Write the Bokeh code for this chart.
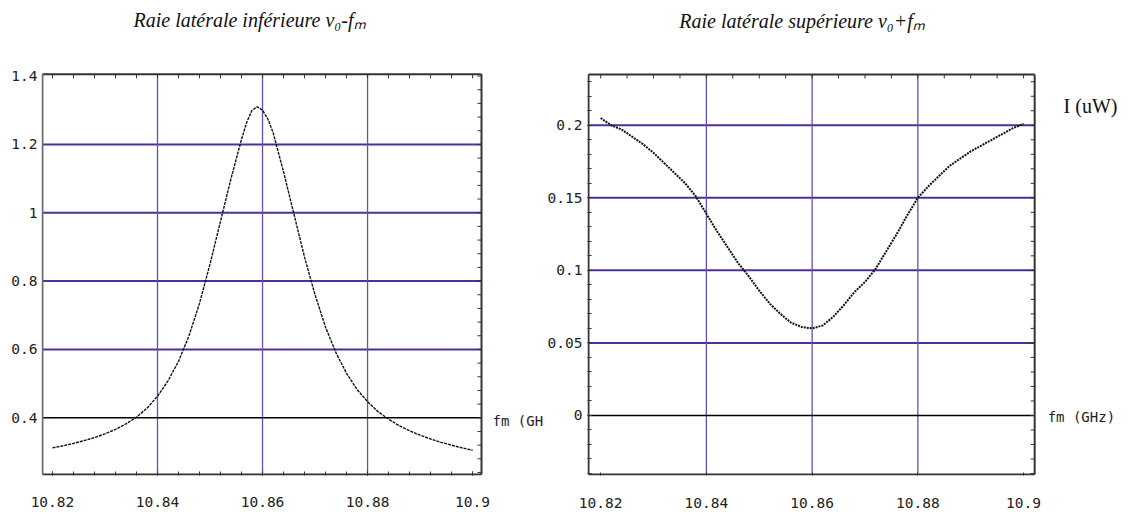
from bokeh.plotting import figure
from bokeh.models import (FixedTicker, LinearAxis, Range1d, Label,
                          CustomJSTickFormatter)
from bokeh.layouts import row
from bokeh.embed import file_html
from bokeh.resources import INLINE

# ---------------- data ----------------
freq_lower = [10.820, 10.822, 10.824, 10.826, 10.828, 10.830, 10.832, 10.834, 10.836, 10.838,
              10.840, 10.842, 10.844, 10.846, 10.848, 10.850, 10.852, 10.854, 10.856, 10.857,
              10.858, 10.859, 10.860, 10.861, 10.862, 10.864, 10.866, 10.868, 10.870, 10.872,
              10.874, 10.876, 10.878, 10.880, 10.882, 10.884, 10.886, 10.888, 10.890, 10.892,
              10.894, 10.896, 10.898, 10.900]
power_lower = [0.312, 0.318, 0.325, 0.333, 0.342, 0.353, 0.366, 0.382, 0.402, 0.428,
               0.463, 0.508, 0.565, 0.640, 0.735, 0.850, 0.975, 1.100, 1.215, 1.265,
               1.300, 1.310, 1.300, 1.275, 1.235, 1.120, 0.995, 0.870, 0.760, 0.665,
               0.590, 0.530, 0.483, 0.447, 0.418, 0.396, 0.377, 0.362, 0.349, 0.338,
               0.328, 0.320, 0.312, 0.305]

freq_upper = [10.820, 10.822, 10.824, 10.826, 10.828, 10.830, 10.832, 10.834, 10.836, 10.838,
              10.840, 10.842, 10.844, 10.846, 10.848, 10.850, 10.852, 10.854, 10.856, 10.858,
              10.860, 10.862, 10.864, 10.866, 10.868, 10.870, 10.872, 10.874, 10.876, 10.878,
              10.880, 10.882, 10.884, 10.886, 10.888, 10.890, 10.892, 10.894, 10.896, 10.898,
              10.900]
power_upper = [0.205, 0.200, 0.197, 0.192, 0.187, 0.181, 0.174, 0.167, 0.160, 0.151,
               0.139, 0.127, 0.116, 0.105, 0.096, 0.086, 0.077, 0.070, 0.064, 0.061,
               0.060, 0.062, 0.068, 0.076, 0.085, 0.092, 0.101, 0.113, 0.125, 0.138,
               0.150, 0.158, 0.165, 0.172, 0.177, 0.182, 0.186, 0.190, 0.194, 0.198,
               0.201]

x_ticks = [10.82, 10.84, 10.86, 10.88, 10.9]
x_tick_labels = ["10.82", "10.84", "10.86", "10.88", "10.9"]
y_ticks_lower = [0.4, 0.6, 0.8, 1.0, 1.2, 1.4]
y_tick_labels_lower = ["0.4", "0.6", "0.8", "1", "1.2", "1.4"]
y_ticks_upper = [0.0, 0.05, 0.1, 0.15, 0.2]
y_tick_labels_upper = ["0", "0.05", "0.1", "0.15", "0.2"]

title_lower = "Raie latérale inférieure ν₀-fₘ"
title_upper = "Raie latérale supérieure ν₀+fₘ"
xname_lower = "fm (GH"
xname_upper = "fm (GHz)"
yname = "I (uW)"

# ---------------- style ----------------
MONO = "DejaVu Sans Mono"
SERIF = "Liberation Serif"
TICK_SIZE = "14.5px"
NAME_SIZE = "14px"
TITLE_SIZE = "20px"
HGRID = "#4f2f98"
VGRID = "#6a4db0"
FRAME = "#333333"
H = 516


def fmt(tick_vals, tick_labs):
    return CustomJSTickFormatter(args=dict(tv=tick_vals, tl=tick_labs), code="""
        for (let i = 0; i < tv.length; i++) {
            if (Math.abs(tv[i] - tick) < 1e-9) { return tl[i]; }
        }
        return '';
    """)


def seq(a, b, step):
    n = int(round((b - a) / step))
    return [round(a + k * step, 6) for k in range(n + 1)]


class Panel:
    """A figure whose frame runs from the canvas top to just under the plot box and
    from just left of the box to the canvas right edge; the box is drawn inside."""

    def __init__(self, width, page_x0, box_x, box_px_x, box_y, box_px_y):
        self.bx0, self.bx1 = box_x
        self.by0, self.by1 = box_y
        px_l, px_r = box_px_x
        py_b, py_t = box_px_y
        self.px_l = px_l
        self.sx = (self.bx1 - self.bx0) / (px_r - px_l)
        self.sy = (self.by1 - self.by0) / (py_b - py_t)
        frame_left = px_l - 1 - page_x0
        page_right = page_x0 + width
        xr = (self.bx0 - 1 * self.sx, self.bx1 + (page_right - px_r) * self.sx)
        yr = (self.by0 - 1 * self.sy, self.by1 + py_t * self.sy)
        self.p = figure(width=width, height=H, x_range=Range1d(*xr), y_range=Range1d(*yr),
                        output_backend="svg", toolbar_location=None, title=None,
                        x_axis_location=None, y_axis_location=None,
                        min_border_left=frame_left, min_border_right=0, min_border_top=0,
                        min_border_bottom=H - (py_b + 1))
        p = self.p
        p.outline_line_color = None
        p.background_fill_color = "white"
        p.border_fill_color = "white"
        p.xgrid.visible = False
        p.ygrid.visible = False

    def axis(self, side, ticks, labels, minor, tick_in, minor_in, standoff):
        ax = LinearAxis(ticker=FixedTicker(ticks=ticks, minor_ticks=minor),
                        formatter=fmt(ticks, labels))
        ax.axis_line_color = None
        ax.major_tick_out = 0
        ax.minor_tick_out = 0
        ax.major_tick_in = tick_in
        ax.minor_tick_in = minor_in
        ax.major_tick_line_color = FRAME
        ax.minor_tick_line_color = FRAME
        ax.major_tick_line_width = 1
        ax.minor_tick_line_width = 1
        ax.major_label_text_font = MONO
        ax.major_label_text_font_size = TICK_SIZE
        ax.major_label_text_color = "#222222"
        ax.major_label_standoff = standoff
        self.p.add_layout(ax, side)

    def box(self, left_color=FRAME):
        p = self.p
        x0, x1, y0, y1 = self.bx0, self.bx1, self.by0, self.by1
        p.segment(x0=[x0, x0, x1], y0=[y0, y1, y0], x1=[x1, x1, x1], y1=[y0, y1, y1],
                  line_color=FRAME, line_width=2)
        p.segment(x0=[x0], y0=[y0], x1=[x0], y1=[y1], line_color=left_color, line_width=2)

    def hlines(self, ys, color, width):
        n = len(ys)
        self.p.segment(x0=[self.bx0] * n, x1=[self.bx1] * n, y0=ys, y1=ys,
                       line_color=color, line_width=width)

    def vlines(self, xs, color, width):
        n = len(xs)
        self.p.segment(x0=xs, x1=xs, y0=[self.by0] * n, y1=[self.by1] * n,
                       line_color=color, line_width=width)

    def top_ticks(self, xs, length=4):
        n = len(xs)
        self.p.segment(x0=xs, x1=xs, y0=[self.by1] * n, y1=[self.by1 - length * self.sy] * n,
                       line_color=FRAME, line_width=1)

    def right_ticks(self, ys, length=4):
        n = len(ys)
        self.p.segment(x0=[self.bx1] * n, x1=[self.bx1 - length * self.sx] * n, y0=ys, y1=ys,
                       line_color=FRAME, line_width=1)

    def at_px(self, page_x):
        return self.bx0 + (page_x - self.px_l) * self.sx

    def above_top(self, px):
        return self.by1 + px * self.sy


# ================= left panel =================
W1 = 544
L = Panel(W1, 0, (10.8181, 10.9017), (42, 481), (0.234, 1.405), (475, 74))
p1 = L.p
L.axis("below", x_ticks, x_tick_labels, seq(10.82, 10.9, 0.004), 4, 4, 21)
L.axis("left", y_ticks_lower, y_tick_labels_lower, [], 0, 0, 4)
L.hlines(y_ticks_lower[1:5], HGRID, 2)
L.vlines(x_ticks[1:4], VGRID, 1.3)
L.hlines([y_ticks_lower[0]], "black", 1.5)
L.top_ticks(seq(10.82, 10.9, 0.004))
L.right_ticks(seq(0.24, 1.4, 0.04))
L.box(left_color="#6e6e6e")
p1.line(freq_lower, power_lower, line_color="#111111", line_width=1.4, line_dash="3 1")

p1.add_layout(Label(x=L.at_px(249), y=L.above_top(54), text=title_lower, text_font=SERIF,
                    text_font_style="italic", text_font_size=TITLE_SIZE, text_align="center",
                    text_baseline="middle", text_color="#111111"))
p1.add_layout(Label(x=L.at_px(492), y=y_ticks_lower[0] - 3 * L.sy, text=xname_lower,
                    text_font=MONO, text_font_size=NAME_SIZE, text_align="left",
                    text_baseline="middle", text_color="#222222"))

# ================= right panel =================
R = Panel(1128 - W1, W1, (10.8177, 10.9021), (587, 1034), (-0.0407, 0.235), (474, 74))
p2 = R.p
R.axis("below", x_ticks, x_tick_labels, [], 3, 0, 22)
R.axis("left", y_ticks_upper, y_tick_labels_upper, seq(-0.04, 0.23, 0.01), 4, 4, 5)
R.hlines(y_ticks_upper[1:], HGRID, 2)
R.vlines(x_ticks[1:4], VGRID, 1.3)
R.hlines([y_ticks_upper[0]], "black", 1.5)
R.top_ticks(seq(10.82, 10.9, 0.005))
R.right_ticks(seq(-0.04, 0.23, 0.01))
R.box()
p2.line(freq_upper, power_upper, line_color="#111111", line_width=2, line_dash="2 1")

p2.add_layout(Label(x=R.at_px(801), y=R.above_top(54), text=title_upper, text_font=SERIF,
                    text_font_style="italic", text_font_size=TITLE_SIZE, text_align="center",
                    text_baseline="middle", text_color="#111111"))
p2.add_layout(Label(x=R.at_px(1047), y=y_ticks_upper[0] - 2 * R.sy, text=xname_upper,
                    text_font=MONO, text_font_size=NAME_SIZE, text_align="left",
                    text_baseline="middle", text_color="#222222"))
p2.add_layout(Label(x=R.at_px(1063), y=R.by1 - 31 * R.sy, text=yname, text_font=SERIF,
                    text_font_size=TITLE_SIZE, text_align="left", text_baseline="middle",
                    text_color="#111111"))

layout = row(p1, p2)
open("out.html", "w").write(file_html(layout, INLINE))
